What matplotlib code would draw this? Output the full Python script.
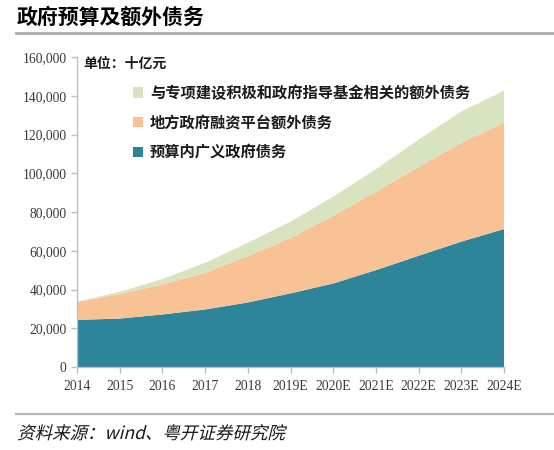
"""政府预算及额外债务 — stacked area chart"""

import numpy as np
import matplotlib.pyplot as plt
from matplotlib.patches import Patch, PathPatch
from matplotlib.textpath import TextPath
from matplotlib.font_manager import FontProperties
from matplotlib.transforms import Affine2D
from matplotlib.ticker import FuncFormatter

# =============================================================================
# DATA  (十亿元)
# =============================================================================

years = ["2014", "2015", "2016", "2017", "2018", "2019E",
         "2020E", "2021E", "2022E", "2023E", "2024E"]

budget_debt = [24.3, 25.0, 27.1, 29.7, 33.3, 38.0, 43.1, 50.0, 57.4, 64.7, 71.2]
lgfv_debt   = [9.2, 12.6, 15.5, 18.9, 24.0, 28.5, 34.9, 40.5, 45.8, 50.9, 55.0]
fund_debt   = [0.3, 1.2, 2.8, 5.2, 6.8, 8.5, 9.9, 11.6, 14.1, 16.3, 16.4]

labels = ["预算内广义政府债务", "地方政府融资平台额外债务",
          "与专项建设积极和政府指导基金相关的额外债务"]
colors = ["#2E8499", "#F8C294", "#D8E4C0"]

budget_debt = np.array(budget_debt) * 1000
lgfv_debt   = np.array(lgfv_debt) * 1000
fund_debt   = np.array(fund_debt) * 1000

CJK = ["Noto Sans CJK SC", "DejaVu Sans"]

# =============================================================================
# FIGURE
# =============================================================================

W, H = 554, 450
fig = plt.figure(figsize=(W / 100, H / 100), dpi=100)
ax = fig.add_axes([77 / W, 1 - 367 / H, 427 / W, 310 / H])

x = np.arange(len(years))
ax.stackplot(x, budget_debt, lgfv_debt, fund_debt, colors=colors, linewidth=0)

ax.set_xlim(0, len(years) - 1)
ax.set_ylim(0, 160000)
ax.set_xticks(x)
ax.set_xticklabels(years)
ax.set_yticks(np.arange(0, 160001, 20000))
ax.yaxis.set_major_formatter(FuncFormatter(lambda v, _: f"{int(v):,}"))

for side in ["top", "right"]:
    ax.spines[side].set_visible(False)
for side in ["left", "bottom"]:
    ax.spines[side].set_color("#BFBFBF")
    ax.spines[side].set_linewidth(1.0)
ax.tick_params(axis="both", colors="#BFBFBF", length=4, width=1.0,
               labelcolor="#3A3A3A", labelsize=9.8)
ax.tick_params(axis="x", pad=5)
for lbl in ax.get_xticklabels() + ax.get_yticklabels():
    lbl.set_fontfamily("Liberation Serif")

# --- legend (top entry first, as in the original) ---
handles = [Patch(facecolor=c, edgecolor="none") for c in colors][::-1]
leg = ax.legend(handles, labels[::-1], loc="upper left",
                bbox_to_anchor=(0.098, 0.955), frameon=False,
                handlelength=0.7, handleheight=0.7, handletextpad=0.45,
                labelspacing=0.9, prop={"family": CJK, "size": 11,
                                        "weight": "bold"})
for t in leg.get_texts():
    t.set_color("#1A1A1A")

fig.text(83 / W, 1 - 64 / H, "单位：十亿元", family=CJK, fontsize=10,
         fontweight="bold", va="center", ha="left", color="#1A1A1A")

# --- title and rules ---
fig.text(17 / W, 1 - 17 / H, "政府预算及额外债务", family=CJK, fontsize=15,
         fontweight="bold", va="center", ha="left")
fig.add_artist(plt.Line2D([16 / W, 1], [1 - 33 / H] * 2, color="#AFAFAF", lw=2))
fig.add_artist(plt.Line2D([16 / W, 1], [1 - 414 / H] * 2, color="#B5B5B5", lw=1.5))

# --- source note, slanted like the italic original ---
src = TextPath((0, 0), "资料来源：wind、粤开证券研究院", size=17.5,
               prop=FontProperties(family="Noto Sans CJK SC"))
skew = Affine2D().skew_deg(14, 0).translate(17, H - 439)
fig.add_artist(PathPatch(src, transform=skew, facecolor="#1A1A1A",
                         edgecolor="none"))

fig.savefig("out.png", dpi=100)
